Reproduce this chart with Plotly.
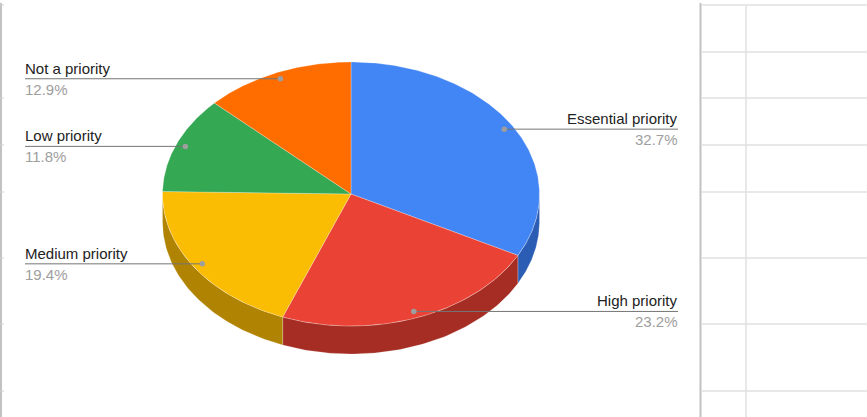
import numpy as np
import plotly.graph_objects as go

# Survey answers, clockwise from 12 o'clock
labels = ["Essential priority", "High priority", "Medium priority", "Low priority", "Not a priority"]
shares = [32.7, 23.2, 19.4, 11.8, 12.9]
top_colors = ["#4285f4", "#ea4335", "#fbbc04", "#34a853", "#ff6d01"]
side_colors = ["#2c5db4", "#a52d24", "#b08303", "#24763a", "#b34c01"]
label_side = ["right", "right", "left", "left", "left"]

# Pie geometry (pixels in the plotting area)
CX, CY = 351.0, 194.0
RX, RY = 188.5, 132.0
DEPTH = 28.0
DOT_R = 0.95
LEFT_X, RIGHT_X = 25.0, 678.0
W, H = 867, 417


def pt(theta, scale=1.0, dy=0.0):
    return CX + scale * RX * np.sin(theta), CY - scale * RY * np.cos(theta) + dy


fig = go.Figure()

total = sum(shares)
edges = np.concatenate([[0.0], np.cumsum(shares) / total * 2 * np.pi])

# Visible rim: the front half of the ellipse (theta between 90 and 270 degrees)
for i in range(len(shares)):
    a = max(edges[i], np.pi / 2)
    b = min(edges[i + 1], 3 * np.pi / 2)
    if b <= a:
        continue
    t = np.linspace(a, b, 80)
    xs_top, ys_top = pt(t)
    xs_bot, ys_bot = pt(t[::-1], dy=DEPTH)
    fig.add_trace(go.Scatter(
        x=np.concatenate([xs_top, xs_bot, xs_top[:1]]),
        y=np.concatenate([ys_top, ys_bot, ys_top[:1]]),
        mode="lines", fill="toself", fillcolor=side_colors[i],
        line=dict(color="rgba(255,255,255,0.35)", width=0.6),
        hoverinfo="skip", showlegend=False,
    ))

# Top faces of the slices
for i in range(len(shares)):
    t = np.linspace(edges[i], edges[i + 1], 160)
    xs, ys = pt(t)
    fig.add_trace(go.Scatter(
        x=np.concatenate([[CX], xs, [CX]]),
        y=np.concatenate([[CY], ys, [CY]]),
        mode="lines", fill="toself", fillcolor=top_colors[i],
        line=dict(color="rgba(255,255,255,0.45)", width=0.6),
        hoverinfo="skip", showlegend=False,
    ))

# Leader lines, dots and labels
for i, name in enumerate(labels):
    mid = (edges[i] + edges[i + 1]) / 2
    dx, dy = pt(mid, scale=DOT_R)
    left = label_side[i] == "left"
    end_x = LEFT_X if left else RIGHT_X
    fig.add_trace(go.Scatter(
        x=[dx, end_x], y=[dy, dy], mode="lines",
        line=dict(color="#757575", width=1),
        hoverinfo="skip", showlegend=False,
    ))
    fig.add_trace(go.Scatter(
        x=[dx], y=[dy], mode="markers",
        marker=dict(color="#9e9e9e", size=5.5),
        hoverinfo="skip", showlegend=False,
    ))
    anchor = "left" if left else "right"
    shift = -2 if left else 2
    fig.add_annotation(
        x=end_x, y=dy, text=name, showarrow=False,
        xanchor=anchor, yanchor="bottom", xshift=shift,
        font=dict(family="Liberation Sans, Arial", size=15, color="#222222"),
    )
    fig.add_annotation(
        x=end_x, y=dy, text=f"{shares[i]:.1f}%", showarrow=False,
        xanchor=anchor, yanchor="top", xshift=shift,
        font=dict(family="Liberation Sans, Arial", size=15, color="#9e9e9e"),
    )

# Spreadsheet grid visible beside the chart
shapes = []
grid_rows = [5, 52, 98, 145, 192, 258, 324, 391]
for y in grid_rows:
    shapes.append(dict(type="line", xref="x", yref="y", x0=702, x1=W, y0=y, y1=y,
                       line=dict(color="#e1e1e1", width=1.5), layer="below"))
shapes.append(dict(type="line", xref="x", yref="y", x0=746, x1=746, y0=5, y1=H,
                   line=dict(color="#e1e1e1", width=1.5), layer="below"))
shapes.append(dict(type="line", xref="x", yref="y", x0=700.5, x1=700.5, y0=3, y1=H,
                   line=dict(color="#c2c2c2", width=2), layer="below"))
shapes.append(dict(type="line", xref="x", yref="y", x0=1, x1=1, y0=3, y1=H,
                   line=dict(color="#c2c2c2", width=2), layer="below"))
for y in [5, 98, 145, 192, 258, 324, 391]:
    shapes.append(dict(type="line", xref="x", yref="y", x0=0, x1=4, y0=y, y1=y,
                       line=dict(color="#d0d0d0", width=1), layer="below"))

fig.update_layout(
    width=W, height=H,
    margin=dict(l=0, r=0, t=0, b=0),
    paper_bgcolor="white", plot_bgcolor="white",
    xaxis=dict(range=[0, W], visible=False, fixedrange=True),
    yaxis=dict(range=[H, 0], visible=False, fixedrange=True),
    shapes=shapes,
    hovermode=False,
)

fig.write_html("out.html", config={"displayModeBar": False})
